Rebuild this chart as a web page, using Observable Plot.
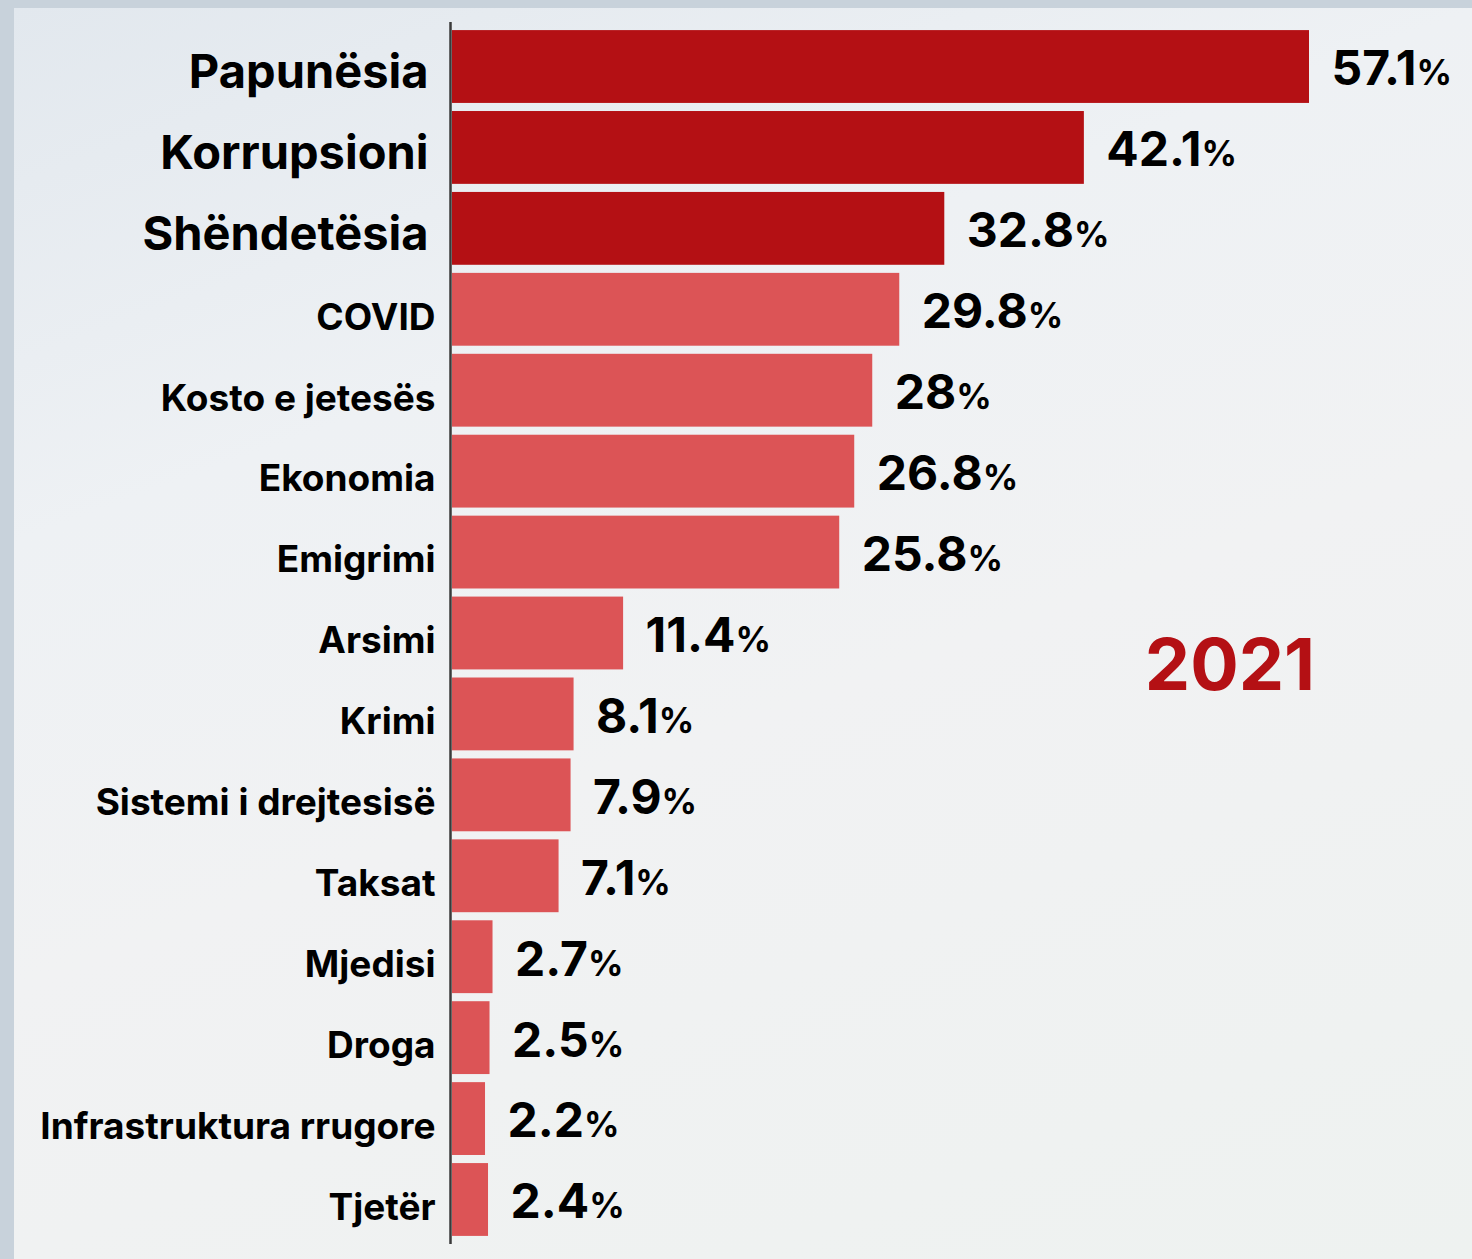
<!DOCTYPE html>
<html><head><meta charset="utf-8">
<script src="https://cdn.jsdelivr.net/npm/d3@7"></script>
<script src="https://cdn.jsdelivr.net/npm/@observablehq/plot@0.6"></script>
<style>
html,body{margin:0;padding:0;}
body{width:1472px;height:1259px;background:#c8d2db;position:relative;overflow:hidden;font-family:Inter, sans-serif;}
#panel{position:absolute;left:14px;top:8px;right:0;bottom:0;
 background:linear-gradient(160deg,#e2e8ee 0%,#eef1f4 30%,#f1f2f3 55%,#eef2f0 100%);}
#chart{position:absolute;left:0;top:0;}
</style></head><body>
<div id="panel"></div>
<div id="chart"></div>
<script>
const categories = ["Papunësia","Korrupsioni","Shëndetësia","COVID","Kosto e jetesës","Ekonomia","Emigrimi","Arsimi","Krimi","Sistemi i drejtesisë","Taksat","Mjedisi","Droga","Infrastruktura rrugore","Tjetër"];
const values = [57.1,42.1,32.8,29.8,28,26.8,25.8,11.4,8.1,7.9,7.1,2.7,2.5,2.2,2.4];
const topCount = 3;
const yearLabel = "2021";
const darkRed = "#B41014";
const lightRed = "#DC5456";

const data = categories.map((c,i)=>({category:c, value:values[i], top:i<topCount}));

const chart = Plot.plot({
  width:1472, height:1259,
  marginLeft:452, marginRight:163, marginTop:22, marginBottom:15,
  style:{background:"transparent", fontFamily:"Inter, sans-serif", overflow:"visible"},
  x:{domain:[0, d3.max(values)], axis:null},
  y:{domain:categories, axis:null, padding:0.1, round:false},
  color:{type:"identity"},
  marks:[
    Plot.barX(data,{x:"value", y:"category", fill:d=>d.top?darkRed:lightRed}),
    Plot.ruleX([0],{stroke:"#3a3a3a", strokeWidth:2.5, dx:-2}),
    Plot.text(data.filter(d=>d.top),{x:0, y:"category", text:"category", textAnchor:"end", dx:-24, dy:6, fontSize:47, fontWeight:700, fill:"#000"}),
    Plot.text(data.filter(d=>!d.top),{x:0, y:"category", text:"category", textAnchor:"end", dx:-17, dy:8, fontSize:37, fontWeight:700, fill:"#000"}),
    Plot.text(data,{x:"value", y:"category", text:d=>d.value+"%", textAnchor:"start", dx:22, dy:3, fontSize:48, fontWeight:700, fill:"#000", className:"vals"})
  ]
});
document.getElementById("chart").appendChild(chart);

d3.select(chart).selectAll("g.vals text").each(function(){
  const t = this.textContent;
  const num = t.replace("%","");
  const el = d3.select(this);
  el.text(null);
  el.append("tspan").text(num);
  el.append("tspan").attr("font-size",35).text("%");
});

const svg = d3.select(chart);
svg.append("text")
  .attr("x",1230).attr("y",690)
  .attr("text-anchor","middle")
  .attr("font-size",72).attr("font-weight",700)
  .attr("fill",darkRed).attr("font-family","Inter, sans-serif")
  .text(yearLabel);
</script>
</body></html>
